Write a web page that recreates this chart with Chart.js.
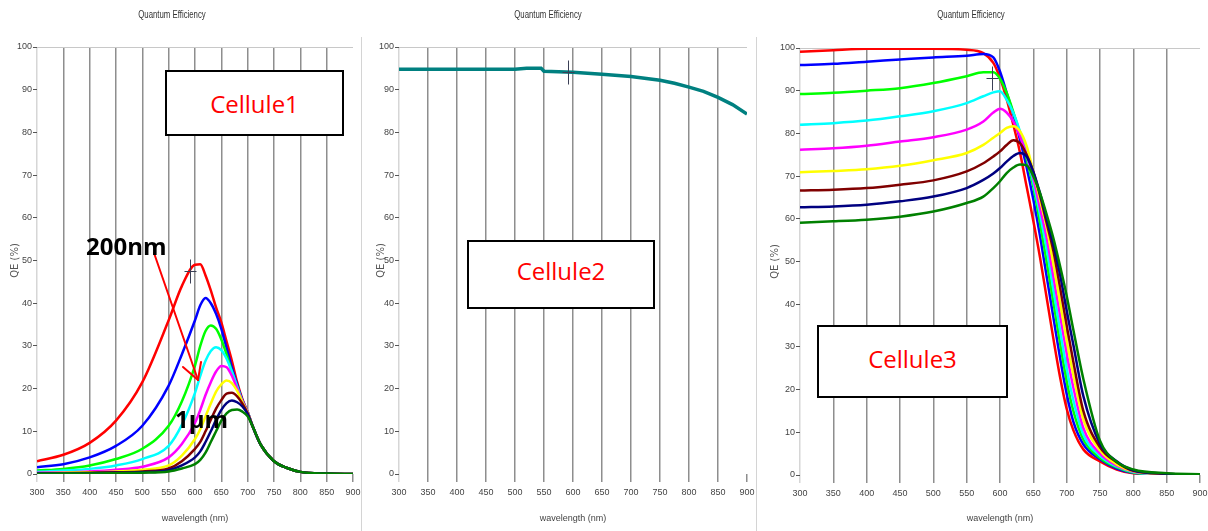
<!DOCTYPE html>
<html>
<head>
<meta charset="utf-8">
<title>Quantum Efficiency</title>
<script src="https://cdn.jsdelivr.net/npm/chart.js@4.4.1/dist/chart.umd.min.js"></script>
<style>
  body { margin: 0; background: #fff; width: 1208px; height: 531px; position: relative; overflow: hidden; font-family: 'Open Sans', sans-serif; }
  .panel { position: absolute; top: 0; }
  .sep { position: absolute; top: 37px; bottom: 0; width: 1px; background: #d4d4d4; }
  .qe-title { position: absolute; top: 9px; width: 120px; text-align: center; font: 10px 'Liberation Sans', sans-serif; color: #333; transform: scaleX(0.78); }
  .cell-box { position: absolute; box-sizing: border-box; border: 2px solid #000; background: #fff; display: flex; align-items: center; justify-content: center; color: #ff0000; font-size: 24px; }
  .note { position: absolute; font-weight: bold; font-size: 24px; line-height: 24px; color: #000; }
  svg.arrow { position: absolute; left: 0; top: 0; }
</style>
</head>
<body>

<canvas id="qe1" class="panel" style="left:0px" width="361" height="531"></canvas>
<canvas id="qe2" class="panel" style="left:362px" width="394" height="531"></canvas>
<canvas id="qe3" class="panel" style="left:757px" width="451" height="531"></canvas>

<div class="sep" style="left:361px"></div>
<div class="sep" style="left:756px"></div>

<div class="qe-title" style="left:112px">Quantum Efficiency</div>
<div class="qe-title" style="left:488px">Quantum Efficiency</div>
<div class="qe-title" style="left:911px">Quantum Efficiency</div>

<div class="cell-box" style="left:165px; top:70px; width:179px; height:66px;">Cellule1</div>
<div class="cell-box" style="left:467px; top:240px; width:188px; height:69px; padding-bottom:8px;">Cellule2</div>
<div class="cell-box" style="left:817px; top:325px; width:191px; height:73px; padding-bottom:6px;">Cellule3</div>

<svg class="arrow" width="400" height="531">
  <g stroke="#ff0000" stroke-width="2" fill="none" stroke-linecap="round">
    <line x1="154" y1="253" x2="198" y2="380"/>
    <line x1="183" y1="367" x2="198" y2="380"/>
    <line x1="201" y1="362" x2="198" y2="380"/>
  </g>
</svg>
<div class="note" style="left:86px; top:234px;">200nm</div>
<div class="note" style="left:175px; top:407px;">1µm</div>

<script>
// Thickness series colours, thinnest (200nm) to thickest (1µm)
const seriesColors = ['#ff0000', '#0000ff', '#00ff00', '#00ffff', '#ff00ff', '#ffff00', '#800000', '#000080', '#008000'];

// Cellule1
const c1Wavelengths = [300, 350, 400, 450, 500, 550, 575, 600, 610, 620, 630, 640, 650, 660, 670, 680, 690, 700, 710, 725, 750, 775, 800, 850, 900];
const c1Red     = [3.0, 4.5, 7.3, 12.5, 21.5, 36, 44, 49, 49.1, 46.5, 43, 39, 35.5, 31, 26.5, 21.5, 17.5, 14.5, 11, 6.8, 3, 1.4, 0.5, 0.1, 0];
const c1Blue    = [1.6, 2.3, 3.9, 6.6, 11.3, 20.7, 28, 36, 39.5, 41.2, 40, 37.5, 34, 29.5, 25, 21, 17.3, 14.5, 11, 6.8, 3, 1.4, 0.5, 0.1, 0];
const c1Lime    = [0.8, 1.2, 2, 3.5, 5.9, 11.3, 17, 25.4, 30, 33.5, 34.8, 34, 31.5, 28, 24, 20.5, 17, 14.5, 11, 6.8, 3, 1.4, 0.5, 0.1, 0];
const c1Cyan    = [0.5, 0.8, 1.2, 2, 3.5, 6.6, 11.5, 19, 23, 26.5, 28.8, 29.7, 29, 27, 24, 20.5, 17, 14.5, 11, 6.8, 3, 1.4, 0.5, 0.1, 0];
const c1Magenta = [0.3, 0.4, 0.6, 1, 1.7, 3.9, 7, 12, 15, 18.5, 21.5, 24, 25.3, 25, 23, 20, 17, 14.5, 11, 6.8, 3, 1.4, 0.5, 0.1, 0];
const c1Yellow  = [0.2, 0.3, 0.4, 0.6, 1, 2, 4.3, 8.2, 10.5, 13.5, 16.5, 19.3, 21, 21.9, 21.3, 19.5, 16.8, 14.3, 11, 6.8, 3, 1.4, 0.5, 0.1, 0];
const c1Maroon  = [0.1, 0.2, 0.3, 0.4, 0.6, 1.3, 3, 5.9, 7.5, 10, 12.7, 15.3, 17.3, 18.8, 19, 18.2, 16.5, 14.2, 11, 6.8, 3, 1.4, 0.5, 0.1, 0];
const c1Navy    = [0.1, 0.1, 0.2, 0.3, 0.4, 0.9, 2, 3.9, 5.3, 7.5, 10, 12.7, 15, 16.6, 17.2, 16.8, 15.8, 14, 11, 6.8, 3, 1.4, 0.5, 0.1, 0];
const c1Green   = [0, 0.1, 0.1, 0.2, 0.3, 0.6, 1.3, 2.3, 3.3, 5, 7.5, 10, 12.5, 14.2, 15, 15.1, 14.6, 13.5, 11, 6.8, 3, 1.4, 0.5, 0.1, 0];

// Cellule2
const c2Wavelengths = [300, 350, 400, 450, 500, 520, 545, 550, 575, 600, 650, 700, 750, 775, 800, 825, 850, 875, 900];
const c2Teal = [94.8, 94.8, 94.8, 94.8, 94.8, 95.0, 95.0, 94.3, 94.2, 94.1, 93.6, 93.1, 92.2, 91.5, 90.6, 89.6, 88.2, 86.5, 84.3];

// Cellule3
const c3Wavelengths = [300, 350, 400, 450, 500, 550, 575, 590, 600, 610, 620, 630, 640, 650, 660, 670, 680, 690, 700, 710, 725, 750, 775, 800, 850, 900];
const c3Red     = [99.1, 99.5, 99.8, 99.8, 99.8, 99.6, 98.8, 96.5, 93, 88, 82, 75.5, 67.5, 59.5, 51, 41.5, 32, 23, 15.5, 10.5, 6, 3.2, 1.3, 0.4, 0.1, 0];
const c3Blue    = [96.0, 96.3, 96.8, 97.3, 97.8, 98.2, 98.6, 97.8, 94.5, 89.5, 84.5, 78.5, 72, 64.5, 56, 46.5, 37, 27.5, 19, 12.5, 7.2, 3.7, 1.5, 0.5, 0.1, 0];
const c3Lime    = [89.2, 89.5, 90, 90.6, 91.8, 93.4, 94.3, 94.3, 92.8, 89.5, 85, 80, 74, 67.5, 59, 50, 40.5, 31, 22, 15, 8.3, 4, 1.8, 0.6, 0.1, 0];
const c3Cyan    = [82, 82.4, 83, 84, 85.2, 87.1, 88.7, 89.6, 89.9, 87.9, 84.8, 80.5, 75, 68.5, 61, 53, 43.5, 34, 25, 17.5, 9.5, 4.5, 2, 0.7, 0.1, 0];
const c3Magenta = [76.2, 76.5, 77.1, 78.1, 79.1, 80.9, 82.8, 84.9, 85.8, 84.9, 82.8, 79.3, 75, 69.5, 62.5, 55.5, 46.5, 37.5, 28.5, 20.5, 11, 5, 2.2, 0.8, 0.2, 0];
const c3Yellow  = [70.9, 71.2, 71.6, 72.4, 73.7, 75.4, 77.3, 79, 80.1, 81.3, 81.7, 80.5, 77, 71, 64.5, 58, 49.5, 40.5, 31.5, 23.5, 13, 5.8, 2.5, 0.9, 0.2, 0];
const c3Maroon  = [66.6, 66.8, 67.2, 68, 69, 71.1, 73, 74.6, 75.8, 77.3, 78.4, 77.7, 75, 71, 65.5, 59, 52.5, 44, 35, 26.5, 15, 6.5, 3, 1, 0.3, 0];
const c3Navy    = [62.7, 62.9, 63.3, 64.1, 65.2, 67.2, 69.1, 70.6, 71.9, 73.4, 74.7, 75.4, 74.6, 71, 66, 60, 54, 47, 38.5, 30.5, 18.5, 7.3, 3.2, 1.1, 0.3, 0];
const c3Green   = [59.1, 59.4, 59.8, 60.5, 61.7, 63.7, 65.2, 67.2, 68.8, 70.7, 72, 72.7, 72.5, 70, 66, 61, 55.5, 49, 42, 34, 22.5, 8, 3.1, 1.3, 0.4, 0.2];

// Cursor crosshair positions (wavelength, QE)
const cursor1 = { x: 591, y: 47.5 };
const cursor2 = { x: 591, y: 94.2 };
const cursor3 = { x: 588, y: 93 };

const tickFont = "'Liberation Sans', sans-serif";

// small "+" marker drawn at the cursor position
const cursorPlugin = {
  id: 'cursorMark',
  afterDatasetsDraw(chart, args, opts) {
    if (!opts || opts.x == null) return;
    const { ctx, scales: { x, y } } = chart;
    const px = Math.round(x.getPixelForValue(opts.x)) + 0.5;
    const py = Math.round(y.getPixelForValue(opts.y)) + 0.5;
    ctx.save();
    ctx.strokeStyle = '#3a3f55';
    ctx.lineWidth = 1;
    ctx.beginPath();
    ctx.moveTo(px - 6, py); ctx.lineTo(px + 6, py);
    ctx.moveTo(px, py - 12); ctx.lineTo(px, py + 12);
    ctx.stroke();
    ctx.restore();
  }
};

function makePanel(id, wavelengths, series, colors, lineWidth, cfg) {
  const datasets = series.map((values, i) => ({
    data: values,
    borderColor: colors[i],
    borderWidth: lineWidth,
    pointRadius: 0,
    cubicInterpolationMode: cfg.smooth ? 'monotone' : 'default',
    tension: 0,
    order: series.length - i
  }));

  return new Chart(document.getElementById(id), {
    type: 'line',
    data: { labels: wavelengths, datasets: datasets },
    plugins: [cursorPlugin],
    options: {
      responsive: false,
      animation: false,
      layout: { padding: { top: cfg.top, right: cfg.right, left: 0, bottom: 0 } },
      plugins: {
        legend: { display: false },
        tooltip: { enabled: false },
        cursorMark: cfg.cursor
      },
      scales: {
        x: {
          type: 'linear',
          min: 300,
          max: 900,
          // fixed axis height, and keep the end labels from shrinking the plot
          afterFit: s => { s.height = cfg.xHeight; s.paddingLeft = 0; s.paddingRight = 0; },
          border: { display: false },
          grid: {
            color: c => c.tick && c.tick.value === 300 ? '#d6d6d6' : (c.tick && c.tick.value === 900 ? 'rgba(0,0,0,0)' : '#8e8e8e'),
            tickColor: c => c.tick && c.tick.value === 300 ? '#d6d6d6' : '#8e8e8e',
            lineWidth: 1.5,
            tickLength: 8
          },
          ticks: {
            stepSize: 50,
            maxRotation: 0,
            autoSkip: false,
            padding: 5,
            color: '#444',
            font: { family: tickFont, size: 9 }
          },
          title: {
            display: true,
            text: 'wavelength (nm)',
            color: '#444',
            padding: { top: 0, bottom: 7 },
            font: { family: tickFont, size: 9 }
          }
        },
        y: {
          min: 0,
          max: 100,
          afterFit: s => { s.width = cfg.yWidth; },
          border: { display: false },
          grid: {
            color: c => c.tick && c.tick.value === 100 ? '#c8c8c8' : 'rgba(0,0,0,0)',
            tickColor: '#555',
            tickLength: 4,
            lineWidth: 1
          },
          ticks: {
            stepSize: 10,
            padding: 1,
            color: '#444',
            font: { family: tickFont, size: 9 }
          },
          title: {
            display: true,
            text: 'QE (%)',
            color: '#555',
            padding: { top: cfg.yTitlePad, bottom: 0 },
            font: { family: "'DejaVu Sans', sans-serif", size: 10 }
          }
        }
      }
    }
  });
}

makePanel('qe1', c1Wavelengths,
  [c1Red, c1Blue, c1Lime, c1Cyan, c1Magenta, c1Yellow, c1Maroon, c1Navy, c1Green],
  seriesColors, 2.5,
  { top: 47, right: 8, yWidth: 37, xHeight: 57, yTitlePad: 9, smooth: true, cursor: cursor1 });

makePanel('qe2', c2Wavelengths, [c2Teal], ['#008080'], 3.5,
  { top: 47, right: 9, yWidth: 37, xHeight: 57, yTitlePad: 13, smooth: false, cursor: cursor2 });

makePanel('qe3', c3Wavelengths,
  [c3Red, c3Blue, c3Lime, c3Cyan, c3Magenta, c3Yellow, c3Maroon, c3Navy, c3Green],
  seriesColors, 2.5,
  { top: 48, right: 8, yWidth: 43, xHeight: 56, yTitlePad: 12, smooth: true, cursor: cursor3 });
</script>
</body>
</html>
